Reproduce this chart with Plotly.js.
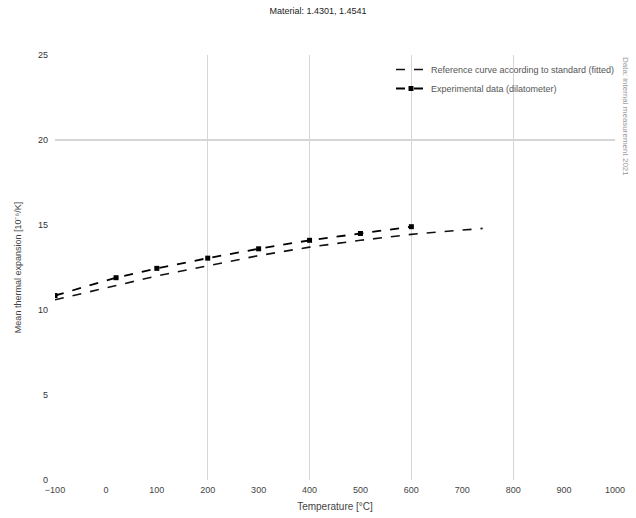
<!DOCTYPE html>
<html>
<head>
<meta charset="utf-8">
<script src="https://cdn.plot.ly/plotly-3.0.1.min.js"></script>
<style>html,body{margin:0;padding:0;background:#fff;}#chart{width:636px;height:518px;}</style>
</head>
<body>
<div id="chart"></div>
<script>
// Data
const refTemps = [-100, 0, 100, 200, 300, 400, 500, 600, 700, 740];
const refValues = [10.6, 11.3, 12.0, 12.6, 13.2, 13.7, 14.1, 14.45, 14.7, 14.8];
const expTemps = [-100, 20, 100, 200, 300, 400, 500, 600];
const expValues = [10.85, 11.9, 12.45, 13.05, 13.6, 14.1, 14.5, 14.9];
const xTickVals = [-100, 0, 100, 200, 300, 400, 500, 600, 700, 800, 900, 1000];
const xGridVals = [200, 400, 600, 800, 1000];
const yTickVals = [0, 5, 10, 15, 20, 25];
const yGridVals = [20];

const font = 'Liberation Sans, Arial, sans-serif';

const traces = [
  {
    x: refTemps, y: refValues, type: 'scatter', mode: 'lines',
    name: 'Reference curve according to standard (fitted)',
    line: {color: '#111', width: 1.6, dash: 'dash'}
  },
  {
    x: expTemps, y: expValues, type: 'scatter', mode: 'lines+markers',
    name: 'Experimental data (dilatometer)',
    line: {color: '#000', width: 1.8, dash: 'dash'},
    marker: {color: '#000', size: 5, symbol: 'square'}
  }
];

const layout = {
  width: 636, height: 518,
  margin: {l: 55, r: 21, t: 55, b: 38},
  paper_bgcolor: '#fff', plot_bgcolor: '#fff',
  font: {family: font, size: 9, color: '#333'},
  title: {text: 'Material: 1.4301, 1.4541', x: 0.5, xanchor: 'center', y: 0.985, yanchor: 'top',
          font: {family: font, size: 9, color: '#222'}},
  showlegend: true,
  legend: {x: 0.6, xanchor: 'left', y: 1.0, yanchor: 'top', bgcolor: 'rgba(0,0,0,0)',
           font: {family: font, size: 9, color: '#555'}, tracegroupgap: 0},
  xaxis: {
    range: [-100, 1000], tickmode: 'array', tickvals: xTickVals, showgrid: false,
    zeroline: false, showline: false, ticks: '', ticklabelstandoff: 3,
    tickfont: {family: font, size: 9, color: '#444'},
    title: {text: 'Temperature [°C]', font: {family: font, size: 10, color: '#444'}, standoff: 8}
  },
  xaxis2: {
    overlaying: 'x', range: [-100, 1000], tickmode: 'array', tickvals: xGridVals,
    showticklabels: false, showgrid: true, gridcolor: '#d6d6d6', gridwidth: 1.3,
    zeroline: false, showline: false, ticks: ''
  },
  yaxis: {
    range: [0, 25], tickmode: 'array', tickvals: yTickVals, showgrid: false,
    zeroline: false, showline: false, ticks: '', ticklabelstandoff: 6,
    tickfont: {family: font, size: 9, color: '#333'},
    title: {text: 'Mean thermal expansion [10⁻⁶/K]', font: {family: font, size: 9, color: '#444'}, standoff: 14}
  },
  yaxis2: {
    overlaying: 'y', range: [0, 25], tickmode: 'array', tickvals: yGridVals,
    showticklabels: false, showgrid: true, gridcolor: '#d6d6d6', gridwidth: 1.3,
    zeroline: false, showline: false, ticks: ''
  },
  annotations: [{
    text: 'Data: internal measurement 2021', xref: 'paper', yref: 'paper',
    x: 1.0, y: 1.0, xanchor: 'left', yanchor: 'top', xshift: 4, textangle: 90,
    showarrow: false, font: {family: font, size: 8, color: '#999'}
  }]
};

// dummy trace to activate the gridline axes
const gridTrace = {x: [null], y: [null], xaxis: 'x2', yaxis: 'y2', showlegend: false, hoverinfo: 'skip'};

Plotly.newPlot('chart', [gridTrace].concat(traces), layout, {displayModeBar: false, staticPlot: true});
</script>
</body>
</html>
